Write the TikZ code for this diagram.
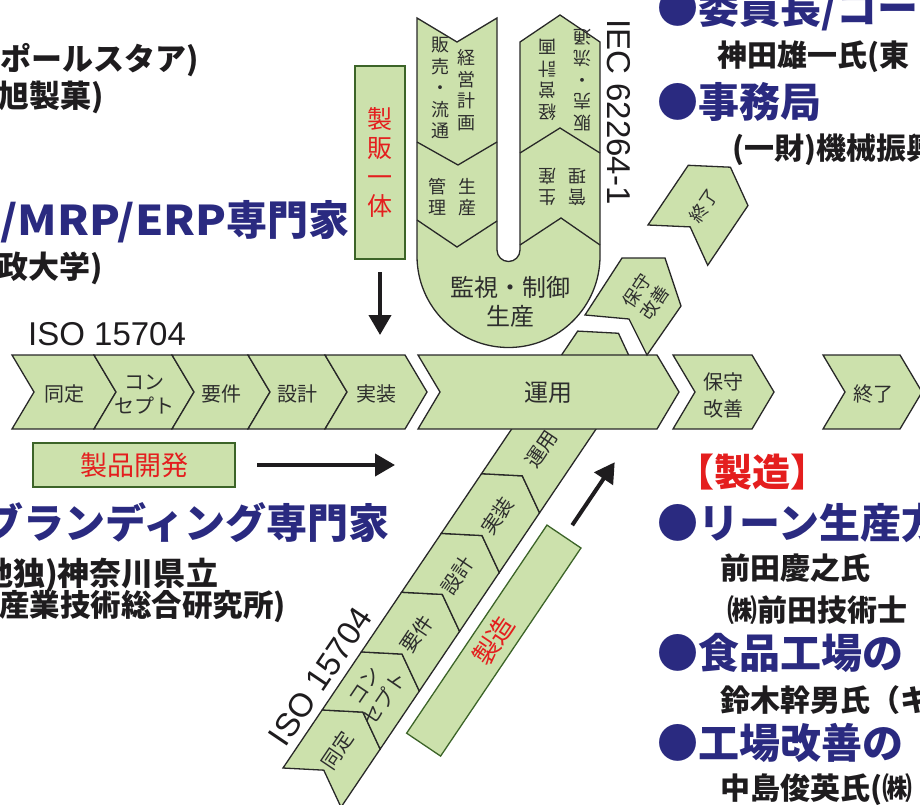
\documentclass[tikz,border=0pt]{standalone}
\usepackage{fontspec}
\setmainfont{Liberation Sans}
\newfontfamily\jp{Noto Sans CJK JP}
\usetikzlibrary{arrows.meta}
\definecolor{gfill}{RGB}{204,225,172}
\definecolor{edgec}{RGB}{40,40,40}
\definecolor{boxedge}{RGB}{60,100,40}
\definecolor{labc}{RGB}{45,45,45}
\definecolor{ink}{RGB}{30,28,30}
\definecolor{navy}{RGB}{42,42,128}
\definecolor{redc}{RGB}{228,30,30}
\newcommand\hchev[2]{\draw[chev] (#1,355) -- (#2,355) -- ({#2+22},392) -- (#2,429) -- (#1,429) -- ({#1+22},392) -- cycle;}
\begin{document}
\begin{tikzpicture}[x=1pt,y=-1pt,
  chev/.style={fill=gfill, draw=edgec, line width=1.3pt, line join=miter},
  sepline/.style={draw=edgec, line width=1.3pt},
  boxst/.style={fill=gfill, draw=boxedge, line width=1.3pt, inner sep=0pt},
  lab/.style={font=\jp\fontsize{20}{24}\selectfont, text=labc, inner sep=0pt, align=center},
  biglab/.style={font=\jp\fontsize{24}{28}\selectfont, text=labc, inner sep=0pt, align=center},
  vlab/.style={font=\jp\fontsize{18}{21.5}\selectfont, text=labc, inner sep=0pt, align=center},
  headst/.style={font=\jp\bfseries\fontsize{41}{45}\selectfont, text=navy, inner sep=0pt, anchor=west},
  bodyst/.style={font=\jp\bfseries\fontsize{30}{34}\selectfont, text=ink, inner sep=0pt, anchor=west},
  redst/.style={font=\jp\fontsize{27}{29}\selectfont, text=redc, align=center},
  isost/.style={font=\fontsize{33}{35}\selectfont, text=ink, inner sep=0pt},
  bigarrow/.style={draw=ink, line width=4pt, -{Triangle[length=20pt,width=22pt]}}
]
\useasboundingbox (0,0) rectangle (920,805);
\clip (0,0) rectangle (920,805);

% ---------- diagonal band (behind) ----------
\begin{scope}[shift={(283,768)},rotate=56]
  \foreach \a/\b in {0/70,70/140,140/212,212/283,283/355,355/527}{
    \draw[chev] (\a,0) -- (\b,0) -- ({\b+21},35) -- (\b,70) -- (\a,70) -- ({\a+21},35) -- cycle;}
  \node[lab,transform shape] (d1) at (45,35) {同定};
  \node[lab,transform shape] (d2) at (114,34) {コン\\セプト};
  \node[lab,transform shape] (d3) at (186,36) {要件};
  \node[lab,transform shape] (d4) at (257,37) {設計};
  \node[lab,transform shape] (d5) at (329,37) {実装};
  \node[lab,transform shape] (d6) at (409,36) {運用};
  \node[isost,transform shape] (diso) at (97,-20) {ISO 15704};
  \node[boxst,transform shape,minimum width=251pt,minimum height=41pt] (seizo) at (223.5,103.5) {};
  \node[redst,transform shape,font=\jp\fontsize{26}{28}\selectfont] (seizot) at (seizo.center) {製造};
  \coordinate (dA) at (363,104);
  \coordinate (dB) at (439,104);
  \draw[bigarrow] (dA) -- (dB);
\end{scope}

% ---------- horizontal band ----------
\hchev{12}{94}
\hchev{94}{172}
\hchev{172}{248}
\hchev{248}{325}
\hchev{325}{405}
\hchev{418}{657}
\hchev{673}{752}
\hchev{823}{900}
\node[lab] (h1) at (64,394) {同定};
\node[lab] (h2) at (144,395) {コン\\セプト};
\node[lab] (h3) at (221,394) {要件};
\node[lab] (h4) at (297,394) {設計};
\node[lab] (h5) at (376,394) {実装};
\node[biglab] (h6) at (548,393) {運用};
\node[lab,font=\jp\fontsize{20}{27}\selectfont] (h7) at (723,395) {保守\\改善};
\node[lab] (h8) at (873,394) {終了};
\node[isost,anchor=west] (hiso) at (28,334) {ISO 15704};

% ---------- U shape ----------
\draw[chev] (417,18) -- (457,42) -- (497,18) -- (497,250)
   arc[start angle=180,end angle=0,radius=11.5] -- (520,42) -- (560,15) -- (600,42) -- (600,256)
   arc[start angle=0,end angle=180,radius=91.5] -- cycle;
\draw[sepline] (417,142) -- (458,165) -- (497,142);
\draw[sepline] (417,220) -- (457,247) -- (497,221);
\draw[sepline] (520,153) -- (560,128) -- (600,153);
\draw[sepline] (520,245) -- (561,218) -- (600,245);
\node[vlab] (la1) at (466,90) {経\\営\\計\\画};
\node[vlab] (la2) at (440,88) {販\\売\\・\\流\\通};
\node[vlab] (la3) at (467,197) {生\\産};
\node[vlab] (la4) at (437,197) {管\\理};
\node[vlab,rotate=180] (ra1) at (547,80) {経\\営\\計\\画};
\node[vlab,rotate=180] (ra2) at (582,80) {販\\売\\・\\流\\通};
\node[vlab,rotate=180] (ra3) at (547,187) {生\\産};
\node[vlab,rotate=180] (ra4) at (577,187) {管\\理};
\node[biglab] (u1) at (510,287) {監視・制御};
\node[biglab] (u2) at (510,316) {生産};
\node[isost,rotate=-90] (iec) at (619,112) {IEC 62264-1};

% ---------- tilted shapes ----------
\draw[chev] (622,258) -- (665,258) -- (681,306) -- (647,355) -- (629,319) -- (585,315) -- cycle;
\node[lab,rotate=56,font=\jp\fontsize{18}{22}\selectfont] (t1) at (646,297) {保守\\改善};
\begin{scope}[shift={(648,225)},rotate=56]
  \draw[chev] (0,0) -- (72,0) -- (94,36) -- (72,72) -- (0,72) -- (22,36) -- cycle;
  \node[lab,transform shape,font=\jp\fontsize{18}{22}\selectfont] (t2) at (47,36) {終了};
\end{scope}

% ---------- boxes and arrows ----------
\node[boxst,minimum width=202pt,minimum height=44pt] (seihin) at (134,465) {};
\node[redst] (seihint) at (seihin.center) {製品開発};
\coordinate (hA) at (257,465);
\coordinate (hB) at (395,465);
\draw[bigarrow] (hA) -- (hB);
\node[boxst,minimum width=50pt,minimum height=193pt] (seihan) at (380,162.5) {};
\node[redst,font=\jp\fontsize{25}{29}\selectfont] (seihant) at (seihan.center) {製\\販\\一\\体};
\coordinate (vA) at (380,272);
\coordinate (vB) at (380,335);
\draw[bigarrow] (vA) -- (vB);

% ---------- surrounding text ----------
\node[bodyst,font=\jp\bfseries\fontsize{31}{34}\selectfont] (l1) at (0,60) {ポールスタア)};
\node[bodyst,font=\jp\bfseries\fontsize{31}{34}\selectfont] (l2) at (-2,97) {旭製菓)};
\node[headst] (l3) at (0,222) {\scalebox{1.1}[1]{/MRP/ERP}専門家};
\node[bodyst,font=\jp\bfseries\fontsize{31}{34}\selectfont] (l4) at (-3,268) {政大学)};
\node[headst,anchor=east] (l5) at (390,523) {ブランディング専門家};
\node[bodyst,font=\jp\bfseries\fontsize{32}{34}\selectfont] (l6) at (-19,575) {地独)神奈川県立};
\node[bodyst,font=\jp\bfseries\fontsize{30.5}{34}\selectfont] (l7) at (-1,607) {産業技術総合研究所)};

\node[headst] (r1) at (657,10) {●委員長/コー};
\node[bodyst] (r2) at (717,57) {神田雄一氏(東};
\node[headst] (r3) at (657,102) {●事務局};
\node[bodyst] (r4) at (732,150) {(一財)機械振興};
\node[bodyst,text=redc,font=\jp\bfseries\fontsize{38}{40}\selectfont] (r5) at (676,472) {【製造】};
\node[headst] (r6) at (657,523) {●リーン生産方};
\node[bodyst] (r7) at (720,568) {前田慶之氏};
\node[bodyst] (r8) at (727,610) {㈱前田技術士};
\node[headst] (r9) at (657,653) {●食品工場の};
\node[bodyst] (r10) at (720,700) {鈴木幹男氏（キ};
\node[headst] (r11) at (657,743) {●工場改善の};
\node[bodyst] (r12) at (720,790) {中島俊英氏(㈱};
\end{tikzpicture}
\end{document}
